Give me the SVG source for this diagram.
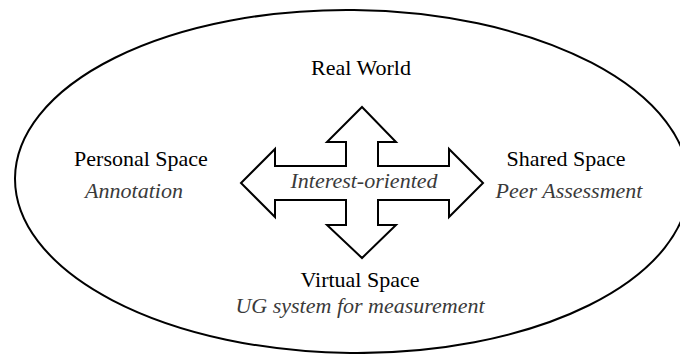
<svg xmlns="http://www.w3.org/2000/svg" width="680" height="354" viewBox="0 0 680 354">
<style>
text{font-family:'Liberation Serif','Times New Roman',serif;font-size:22px;text-anchor:middle}
.t{fill:#000}
.i{font-style:italic;fill:#3a3a3a}
.shape{fill:#fff;stroke:#000;stroke-width:2;stroke-linejoin:miter}
</style>
<rect width="680" height="354" fill="#fff"/>
<g id="boundary">
<ellipse cx="352" cy="181.5" rx="337" ry="171.5" fill="none" stroke="#000" stroke-width="2" transform="rotate(0.6 352 181.5)"/>
</g>
<g id="connectors">
<polygon class="shape" points="362,107 396,142 378,142 378,166 449,166 449,149 483,183 449,217 449,200 378,200 378,225 396,225 362,258 327,225 346,225 346,200 275,200 275,217 241,183 275,149 275,166 346,166 346,142 327,142"/>
</g>
<g id="center">
<text class="i" x="364" y="188">Interest-oriented</text>
</g>
<g id="real-world">
<text class="t" x="361" y="75">Real World</text>
</g>
<g id="personal-space">
<text class="t" x="141" y="166">Personal Space</text>
<text class="i" x="134" y="198">Annotation</text>
</g>
<g id="shared-space">
<text class="t" x="566" y="166">Shared Space</text>
<text class="i" x="569" y="198">Peer Assessment</text>
</g>
<g id="virtual-space">
<text class="t" x="360" y="287">Virtual Space</text>
<text class="i" x="360" y="313">UG system for measurement</text>
</g>
</svg>
